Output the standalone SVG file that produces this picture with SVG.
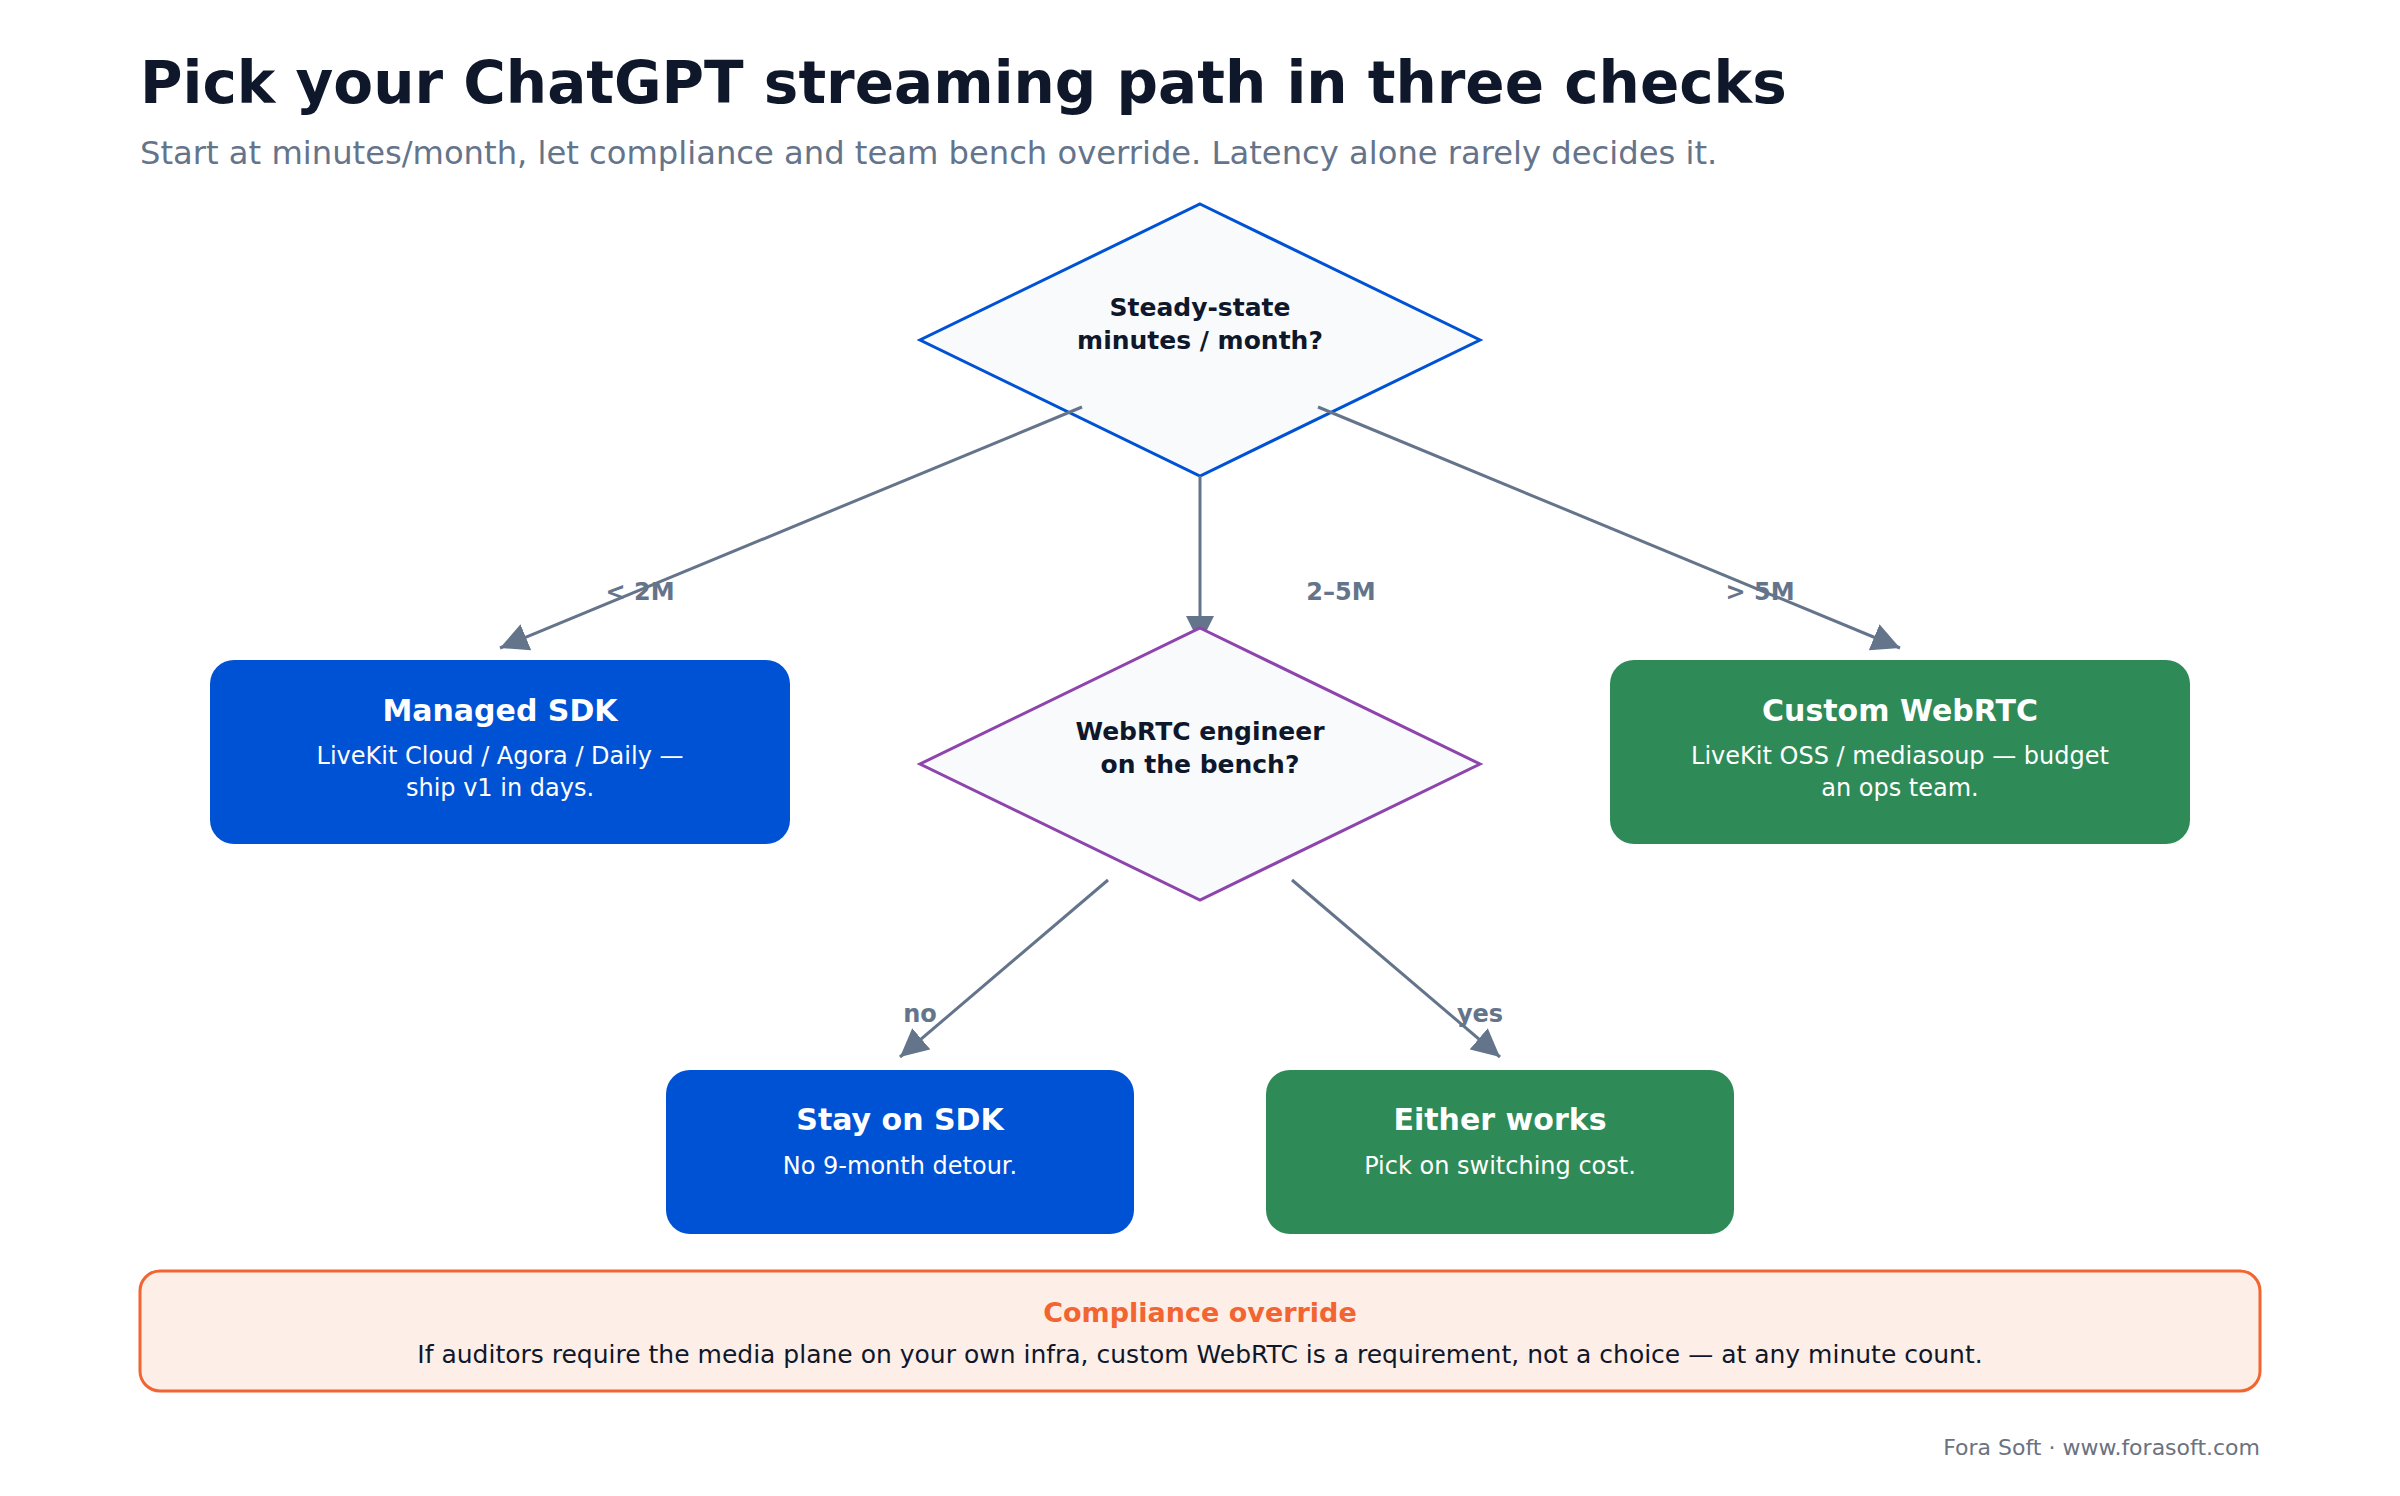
<svg xmlns="http://www.w3.org/2000/svg" width="2400" height="1496" viewBox="0 0 2400 1496">
  <style>
    text { font-family: "DejaVu Sans", Verdana, sans-serif; }
    .title { font-size: 58px; font-weight: bold; fill: #0f172a; }
    .subtitle { font-size: 32.2px; fill: #64748b; }
    .dq { fill: #f8fafc; stroke-width: 3; }
    .dtext { font-size: 25px; font-weight: bold; fill: #0f172a; text-anchor: middle; }
    .edge { fill: none; stroke: #64748b; stroke-width: 3; }
    .elabel { font-size: 24px; font-weight: bold; fill: #64748b; text-anchor: middle; }
    .btitle { font-size: 30px; font-weight: bold; fill: #ffffff; text-anchor: middle; }
    .bsub { font-size: 24px; fill: #ffffff; text-anchor: middle; }
    .blue { fill: #0052d4; }
    .green { fill: #2e8b57; }
  </style>
  <defs>
    <marker id="arrow" viewBox="0 0 10 10" refX="10" refY="5" markerWidth="28" markerHeight="28" markerUnits="userSpaceOnUse" orient="auto">
      <path d="M0,0 L10,5 L0,10 z" fill="#64748b"/>
    </marker>
  </defs>
  <rect width="2400" height="1496" fill="#ffffff"/>

  <g id="header">
    <text class="title" x="140" y="103">Pick your ChatGPT streaming path in three checks</text>
    <text class="subtitle" x="140" y="164">Start at minutes/month, let compliance and team bench override. Latency alone rarely decides it.</text>
  </g>

  <g id="q-minutes">
    <polygon class="dq" stroke="#0052d4" points="1200,204 1480,340 1200,476 920,340"/>
    <text class="dtext" x="1200" y="316">Steady-state</text>
    <text class="dtext" x="1200" y="349">minutes / month?</text>
  </g>

  <g id="connectors">
    <line class="edge" x1="1082" y1="407" x2="500" y2="648" marker-end="url(#arrow)"/>
    <line class="edge" x1="1200" y1="476" x2="1200" y2="644" marker-end="url(#arrow)"/>
    <line class="edge" x1="1318" y1="407" x2="1900" y2="648" marker-end="url(#arrow)"/>
    <line class="edge" x1="1108" y1="880" x2="900" y2="1057" marker-end="url(#arrow)"/>
    <line class="edge" x1="1292" y1="880" x2="1500" y2="1057" marker-end="url(#arrow)"/>
    <text class="elabel" x="640" y="600">&lt; 2M</text>
    <text class="elabel" x="1341" y="600">2–5M</text>
    <text class="elabel" x="1760" y="600">&gt; 5M</text>
    <text class="elabel" x="920" y="1022">no</text>
    <text class="elabel" x="1480" y="1022">yes</text>
  </g>

  <g id="q-engineer">
    <polygon class="dq" stroke="#8e44ad" points="1200,628 1480,764 1200,900 920,764"/>
    <text class="dtext" x="1200" y="740">WebRTC engineer</text>
    <text class="dtext" x="1200" y="773">on the bench?</text>
  </g>

  <g id="managed-sdk">
    <rect class="blue" x="210" y="660" width="580" height="184" rx="24"/>
    <text class="btitle" x="500" y="721">Managed SDK</text>
    <text class="bsub" x="500" y="764">LiveKit Cloud / Agora / Daily —</text>
    <text class="bsub" x="500" y="796">ship v1 in days.</text>
  </g>

  <g id="custom-webrtc">
    <rect class="green" x="1610" y="660" width="580" height="184" rx="24"/>
    <text class="btitle" x="1900" y="721">Custom WebRTC</text>
    <text class="bsub" x="1900" y="764">LiveKit OSS / mediasoup — budget</text>
    <text class="bsub" x="1900" y="796">an ops team.</text>
  </g>

  <g id="stay-on-sdk">
    <rect class="blue" x="666" y="1070" width="468" height="164" rx="24"/>
    <text class="btitle" x="900" y="1130">Stay on SDK</text>
    <text class="bsub" x="900" y="1174">No 9-month detour.</text>
  </g>

  <g id="either-works">
    <rect class="green" x="1266" y="1070" width="468" height="164" rx="24"/>
    <text class="btitle" x="1500" y="1130">Either works</text>
    <text class="bsub" x="1500" y="1174">Pick on switching cost.</text>
  </g>

  <g id="compliance-override">
    <rect x="140" y="1271" width="2120" height="120" rx="20" fill="#fdeee8" stroke="#f26430" stroke-width="3"/>
    <text x="1200" y="1322" text-anchor="middle" font-size="27" font-weight="bold" fill="#f26430">Compliance override</text>
    <text x="1200" y="1363" text-anchor="middle" font-size="25" fill="#0f172a">If auditors require the media plane on your own infra, custom WebRTC is a requirement, not a choice — at any minute count.</text>
  </g>

  <g id="footer">
    <text x="2260" y="1455" text-anchor="end" font-size="22" fill="#6b7280">Fora Soft · www.forasoft.com</text>
  </g>
</svg>
